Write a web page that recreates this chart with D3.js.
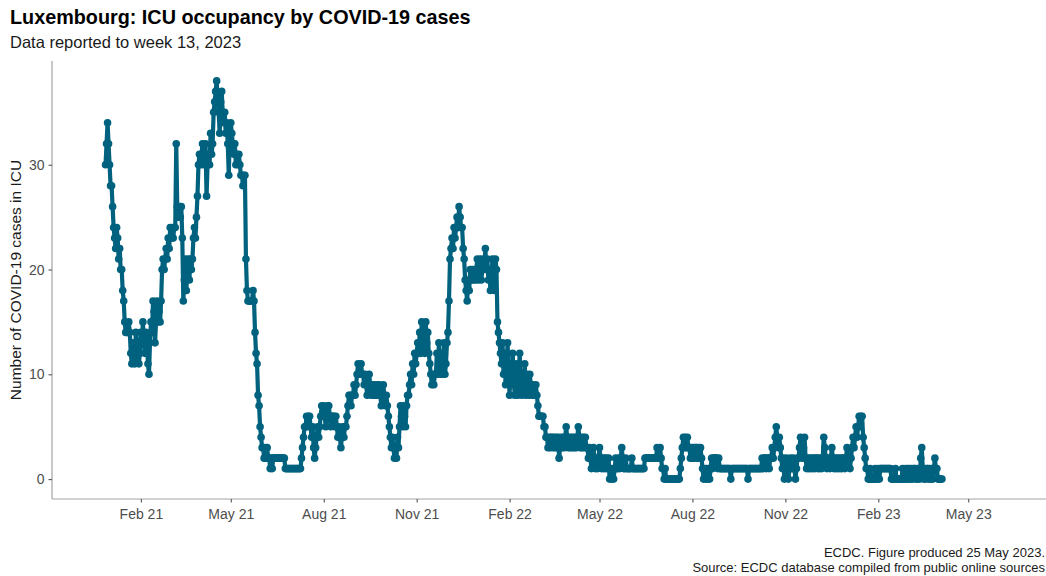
<!DOCTYPE html>
<html>
<head>
<meta charset="utf-8">
<script src="https://cdn.jsdelivr.net/npm/d3@7"></script>
<style>
  body { margin: 0; background: #fff; }
  svg { display: block; }
  text { font-family: "Liberation Sans", Arial, Helvetica, sans-serif; }
</style>
</head>
<body>
<svg id="chart" width="1046" height="576"></svg>
<script>
// ---- Text ----
const chartTitle = "Luxembourg: ICU occupancy by COVID-19 cases";
const chartSubtitle = "Data reported to week 13, 2023";
const yAxisTitle = "Number of COVID-19 cases in ICU";
const captionLines = [
  "ECDC. Figure produced 25 May 2023.",
  "Source: ECDC database compiled from public online sources"
];

// ---- Data: daily ICU occupancy, one value per day from firstDay ----
const firstDay = "2020-12-28";
const icuCases = [
  // Dec 2020 - Jan 2021
  30, 32, 34, 32, 30, 28, 28, 26, 24, 23, 22, 24, 23, 21, 22, 20, 20, 18, 17, 15, 14,
  14, 14, 15, 14, 12, 11, 13, 12, 11, 14, 13, 12, 11, 12, 14, 13, 15, 13, 12, 14, 13, 11, 10, 13, 15, 14,
  // Feb - Mar 2021
  17, 16, 13, 15, 17, 15, 16, 15, 17,
  20, 21, 20, 21, 22, 21, 23, 22, 24, 23, 24, 23, 24, 24, 32, 26,
  25, 26, 25, 26, 23, 17, 19, 21, 18, 20, 21, 19, 21, 20, 21, 23, 24, 23, 25,
  // Apr 2021
  27, 30, 31, 30, 31,
  32, 30, 31, 32, 27, 30, 31, 30, 33, 31, 32,
  35, 36, 37, 38, 36, 35, 33, 36, 37, 35, 34,
  35, 33, 34, 32, 29,
  33, 34, 33, 32, 31, 32, 30, 31, 30, 31,
  30, 29, 29, 28, 29, 29,
  // late May - Jun 2021
  21, 18, 17, 17, 17, 17, 17, 18, 17,
  14, 12, 11, 8, 7, 5, 4, 3, 3, 2, 3, 2, 3, 2, 2, 1, 2, 1,
  2, 2, 2, 2, 2, 2, 2, 2, 2, 2, 2, 2,
  1, 1, 1, 1, 1, 1, 1, 1, 1, 1, 1, 1, 1, 1, 1, 1,
  // Jul - Sep 2021
  2, 3, 4, 5,
  5, 6, 5, 6, 6,
  5, 4, 5, 3, 2,
  3, 4, 5, 4,
  5, 6, 7, 6, 7, 6, 5, 6, 7, 7, 6, 5, 6,
  6, 6, 5, 6, 5, 4, 5, 4, 3, 4, 5, 4, 5,
  5, 6, 7, 8, 8, 7, 8, 8, 9, 8,
  9, 10, 11, 10, 10, 11, 10,
  10, 9, 10, 9, 8, 9, 10, 9, 8, 9,
  // Sep - Oct 2021
  8, 9, 8, 8, 9, 8,
  9, 8, 7, 8, 9, 8, 7, 8, 7, 6,
  5, 4, 3, 4, 3, 2,
  3, 2, 4, 3,
  5, 7, 6, 5, 7, 6, 5, 7,
  8,
  // Nov - Dec 2021
  8, 9, 10, 9, 11, 10, 12, 11, 12, 13, 12,
  14, 12, 15, 13, 14, 12, 15, 13, 14, 12,
  11, 10, 9, 10, 9, 10,
  10, 12, 10, 13, 11, 10, 12, 10, 13, 10, 11, 13,
  14, 17,
  21, 22, 23, 22, 24, 23, 24,
  25, 24, 26, 25, 24,
  24, 22, 21,
  19, 18, 17, 19, 18, 20,
  // Dec 2021 - Jan 2022
  19, 20, 19, 20, 19, 20, 21, 19, 20, 21, 19, 20, 21, 20, 22, 20, 21, 19,
  20, 18, 19, 21, 19, 18, 21, 20,
  15,
  // Feb - Mar 2022
  14, 13, 12, 11, 13, 10, 12, 9, 11, 13, 10, 8, 11, 9, 12,
  10, 8, 9, 11, 8, 10, 12, 9, 8, 10, 9, 11, 8, 10, 9, 8, 10, 9, 8, 9, 8, 8, 9,
  8, 7, 6, 6, 6, 6, 6,
  5, 5, 4,
  // Mar - May 2022
  4, 3, 4, 3, 4, 4, 3, 4, 3, 4, 3, 4, 2, 3, 4, 3, 4, 3, 4, 5,
  4, 3, 4, 3, 4, 3, 4, 3, 4, 3, 4, 5, 4, 3, 4, 3, 4, 3, 4, 3, 3, 2, 3,
  2, 1, 2, 3, 2, 1, 2, 1, 2, 3, 2, 1, 2, 1, 2, 1, 2, 1, 2, 0, 1, 0, 1, 0, 1, 2,
  1, 1, 2, 1, 2, 3, 2,
  // Jun - Jul 2022
  1, 1, 2, 1, 1, 1, 1, 1, 2, 1, 1, 1, 1, 1, 1, 1, 1, 1, 1, 1, 1, 2,
  2, 2, 2, 2, 2, 2, 2, 2, 2, 2, 2, 3, 2, 2, 3, 2, 1,
  1, 0, 1, 0, 0, 0, 0, 0, 0, 0, 0, 0, 0, 0, 0, 0, 0, 1, 2,
  // Aug - Sep 2022
  3, 4, 3, 4, 3, 4, 3,
  3, 2, 3, 2, 3, 2, 3, 3, 2, 3, 2, 3, 2,
  1, 0, 1, 0, 1, 0, 1, 0, 1,
  2, 1, 2, 2, 2, 2, 1, 2,
  1, 1, 1, 1, 1, 1, 1, 1, 1, 1, 1, 0, 1, 1, 1, 1, 1, 1, 1, 1, 1,
  1, 1, 1, 1, 1, 1, 1, 0, 1, 1, 1, 1, 1, 1, 1, 1, 1, 1, 1, 1,
  // Oct - Nov 2022
  1, 2, 1, 2, 2, 1, 2, 2, 1, 2, 2, 3, 2,
  3, 4, 5, 4, 3, 4, 3,
  2, 1, 2, 0, 1, 2, 1, 0, 1, 2, 1, 1, 2, 1, 0, 1, 2,
  2, 3, 4, 3, 2, 3, 4, 2, 1, 2,
  1, 2, 1, 2, 1, 2, 1, 2, 2, 1, 2, 1, 2, 1, 2, 4, 3, 2, 1, 2,
  // Dec 2022 - Jan 2023
  2, 1, 2, 3, 2, 1, 2, 1, 2, 1, 2, 1, 2, 1, 2, 2, 1, 2, 3, 2,
  2, 1, 2, 3, 4, 3, 4, 5, 4, 5, 6, 5, 6, 6,
  4, 3, 2, 1, 1,
  0, 0, 1, 0, 0, 0, 0, 1, 0, 0, 1, 0,
  1, 1, 1, 1, 1, 1, 1, 1, 1, 1, 1, 0,
  // Feb - Apr 2023
  0, 0, 0, 1, 0, 0, 0, 0, 0, 0, 1, 0, 0, 1, 0, 1, 0, 1, 0, 1, 0, 1, 1, 0, 1, 0, 1, 0,
  2, 3,
  1, 0, 1, 0, 1, 1, 0, 1,
  0, 1, 0, 1, 2, 1,
  1, 0, 0, 0, 0, 0
];

// ---- Axis ticks ----
const xTickDates = ["2021-02-01", "2021-05-01", "2021-08-01", "2021-11-01",
                    "2022-02-01", "2022-05-01", "2022-08-01", "2022-11-01",
                    "2023-02-01", "2023-05-01"];
const yTickValues = [0, 10, 20, 30];
const xDomainDates = ["2020-11-05", "2023-07-17"];

// ---- Build ----
const parse = d3.utcParse("%Y-%m-%d");
const start = parse(firstDay);
const series = icuCases.map((v, i) => ({ date: d3.utcDay.offset(start, i), value: v }));

const svg = d3.select("#chart");
const W = 1046, H = 576;
const plot = { left: 52, right: 1046, top: 61, bottom: 499 };
const lineColour = "#00627f";
const axisColour = "#a3a3a3";
const tickTextColour = "#4d4d4d";

const x = d3.scaleUtc()
  .domain(xDomainDates.map(parse))
  .range([plot.left, plot.right]);

const yMax = d3.max(icuCases);
const pad = yMax * 0.05;
const y = d3.scaleLinear()
  .domain([0 - pad, yMax + pad])
  .range([plot.bottom, plot.top]);

svg.append("rect").attr("width", W).attr("height", H).attr("fill", "#fff");

// Titles
svg.append("text")
  .attr("x", 10).attr("y", 24)
  .attr("font-size", 19.8).attr("font-weight", "bold").attr("fill", "#000")
  .text(chartTitle);
svg.append("text")
  .attr("x", 10).attr("y", 48)
  .attr("font-size", 16.5).attr("fill", "#1a1a1a")
  .text(chartSubtitle);

// Axes
const xAxis = d3.axisBottom(x)
  .tickValues(xTickDates.map(parse))
  .tickFormat(d3.utcFormat("%b %y"))
  .tickSizeOuter(0).tickSize(3.5).tickPadding(7);
const gx = svg.append("g")
  .attr("transform", `translate(0,${plot.bottom})`)
  .call(xAxis);

const yAxis = d3.axisLeft(y)
  .tickValues(yTickValues)
  .tickSizeOuter(0).tickSize(3.5).tickPadding(4);
const gy = svg.append("g")
  .attr("transform", `translate(${plot.left},0)`)
  .call(yAxis);

[gx, gy].forEach(g => {
  g.select(".domain").attr("stroke", axisColour).attr("stroke-width", 1.2);
  g.selectAll(".tick line").attr("stroke", "#555").attr("stroke-width", 1.1);
  g.selectAll(".tick text")
    .attr("fill", tickTextColour)
    .attr("font-size", 14)
    .attr("font-family", "\"Liberation Sans\", Arial, sans-serif");
});
gy.select(".domain").attr("d", `M0,${plot.top}V${plot.bottom}`);
gx.select(".domain").attr("d", `M${plot.left},0H${plot.right}`);

// Y axis title
svg.append("text")
  .attr("transform", `translate(21,${(plot.top + plot.bottom) / 2}) rotate(-90)`)
  .attr("text-anchor", "middle")
  .attr("font-size", 15.5).attr("fill", "#1a1a1a")
  .text(yAxisTitle);

// Series line + points
const line = d3.line().x(d => x(d.date)).y(d => y(d.value));
svg.append("path")
  .datum(series)
  .attr("d", line)
  .attr("fill", "none")
  .attr("stroke", lineColour)
  .attr("stroke-width", 4.2)
  .attr("stroke-linejoin", "round");

svg.append("g")
  .selectAll("circle")
  .data(series)
  .join("circle")
  .attr("cx", d => x(d.date))
  .attr("cy", d => y(d.value))
  .attr("r", 3.8)
  .attr("fill", lineColour);

// Caption
svg.append("g")
  .selectAll("text")
  .data(captionLines)
  .join("text")
  .attr("x", 1045)
  .attr("y", (d, i) => 557 + i * 15)
  .attr("text-anchor", "end")
  .attr("font-size", 13).attr("fill", "#1a1a1a")
  .text(d => d);
</script>
</body>
</html>
